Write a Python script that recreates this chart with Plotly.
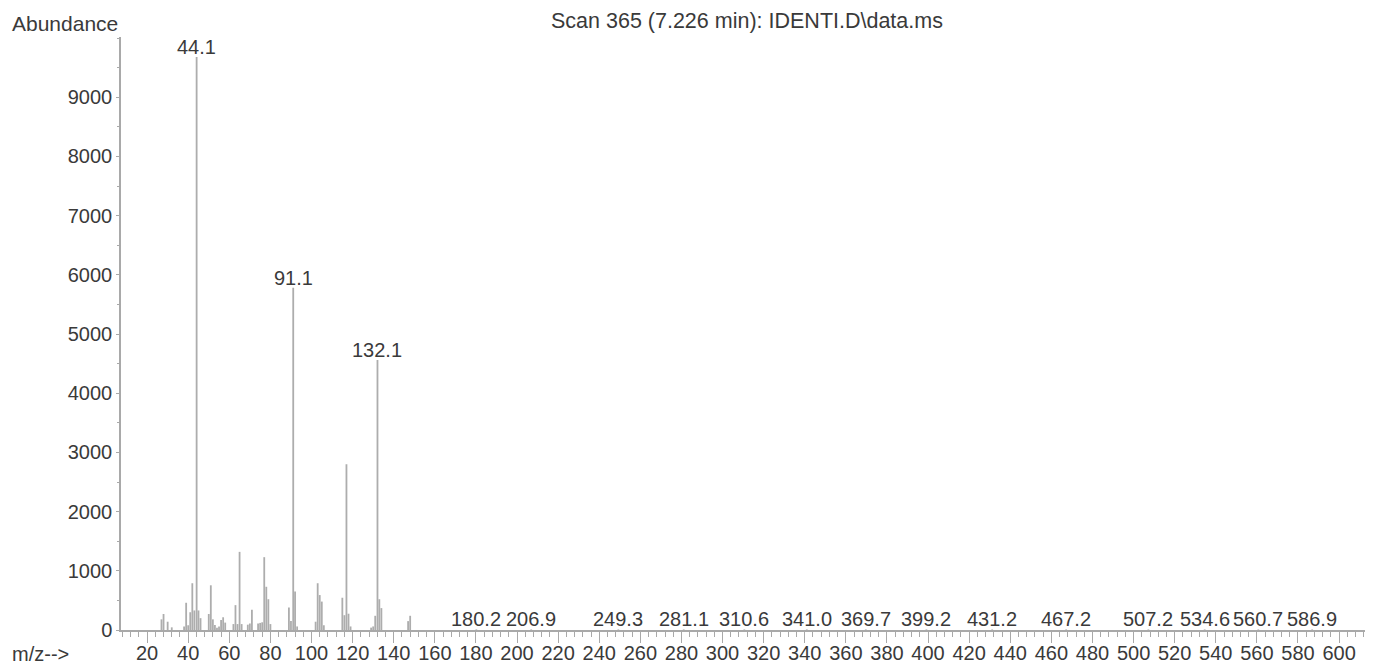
import plotly.graph_objects as go

# ---- data ----
mz = [27, 28, 30, 32,
      38, 39, 40, 41, 42, 43, 44.1, 45, 46,
      50, 51, 52, 53, 54, 55, 56, 57, 58,
      62, 63, 64, 65, 66, 69, 70, 71,
      74, 75, 76, 77, 78, 79, 80,
      89, 90, 91.1, 92, 93,
      102, 103, 104, 105, 106,
      115, 116, 117, 118, 119,
      129, 130, 131, 132.1, 133, 134,
      147, 148,
      180.2, 206.9, 249.3, 281.1, 310.6, 341.0, 369.7, 399.2, 431.2,
      467.2, 507.2, 534.6, 560.7, 586.9]
abundance = [180, 270, 140, 45,
             60, 460, 80, 300, 790, 330, 9680, 330, 200,
             270, 755, 180, 85, 40, 60, 170, 215, 125,
             100, 420, 100, 1320, 100, 90, 110, 340,
             110, 120, 130, 1230, 730, 520, 100,
             380, 150, 5780, 650, 60,
             140, 790, 590, 480, 80,
             545, 250, 2800, 275, 60,
             40, 60, 240, 4560, 520, 370,
             150, 240,
             10, 10, 10, 10, 10, 10, 10, 10, 10,
             10, 10, 10, 10, 10]
label_mz = [44.1, 91.1, 132.1, 180.2, 206.9, 249.3, 281.1, 310.6, 341.0,
            369.7, 399.2, 431.2, 467.2, 507.2, 534.6, 560.7, 586.9]
label_text = ["44.1", "91.1", "132.1", "180.2", "206.9", "249.3", "281.1",
              "310.6", "341.0", "369.7", "399.2", "431.2", "467.2", "507.2",
              "534.6", "560.7", "586.9"]
x_ticks = list(range(20, 601, 20))
y_ticks = list(range(0, 9001, 1000))

title_text = "Scan 365 (7.226 min): IDENTI.D\\data.ms"

# ---- build stick spectrum ----
lookup = dict(zip(mz, abundance))
xs, ys = [], []
for m, a in zip(mz, abundance):
    xs += [m, m, None]
    ys += [0, a, None]

BAR = "#adadad"
AX = "#a9a9a9"
TXT = "#3a3a3a"
FONT = "Liberation Sans, Arial, sans-serif"

fig = go.Figure()
fig.add_trace(go.Scatter(x=xs, y=ys, mode="lines",
                         line=dict(color=BAR, width=1.8),
                         hoverinfo="skip", showlegend=False))

for m, t in zip(label_mz, label_text):
    fig.add_annotation(x=m, y=lookup[m], text=t, showarrow=False,
                       xanchor="center", yanchor="bottom", yshift=-3,
                       font=dict(family=FONT, size=20, color=TXT))

fig.add_annotation(xref="paper", yref="paper", x=0.5, y=1.027,
                   text=title_text, showarrow=False, xanchor="center",
                   yanchor="middle", font=dict(family=FONT, size=21.5, color=TXT))
fig.add_annotation(xref="paper", yref="paper", x=-0.0887, y=1.022,
                   text="Abundance", showarrow=False, xanchor="left",
                   yanchor="middle", font=dict(family=FONT, size=21, color=TXT))
fig.add_annotation(xref="paper", yref="paper", x=-0.0887, y=-0.041,
                   text="m/z-->", showarrow=False, xanchor="left",
                   yanchor="middle", font=dict(family=FONT, size=20, color=TXT))

# the page body has an 8px default margin: size the figure to the visible area
fig.update_layout(
    width=1365, height=658,
    margin=dict(l=113, r=0, t=29, b=36, autoexpand=False),
    paper_bgcolor="white", plot_bgcolor="white",
    font=dict(family=FONT, size=20, color=TXT),
    xaxis=dict(range=[7.3, 616.5], tickvals=x_ticks, ticks="outside",
               ticklen=11, tickcolor=AX, tickwidth=1.3,
               ticklabelstandoff=-7,
               showline=True, linecolor=AX, linewidth=1.5,
               showgrid=False, zeroline=False, automargin=False,
               minor=dict(dtick=4, tick0=0, ticks="outside", ticklen=5,
                          tickcolor=AX, tickwidth=1, showgrid=False),
               tickfont=dict(family=FONT, size=20, color=TXT)),
    yaxis=dict(range=[0, 10017], tickvals=y_ticks, ticks="outside",
               ticklen=3, tickcolor=AX, showline=True, linecolor=AX,
               linewidth=1.5, showgrid=False, zeroline=False, automargin=False,
               minor=dict(dtick=500, ticks="outside", ticklen=2,
                          tickcolor=AX, showgrid=False),
               tickfont=dict(family=FONT, size=20, color=TXT)),
)

fig.write_html("out.html")
